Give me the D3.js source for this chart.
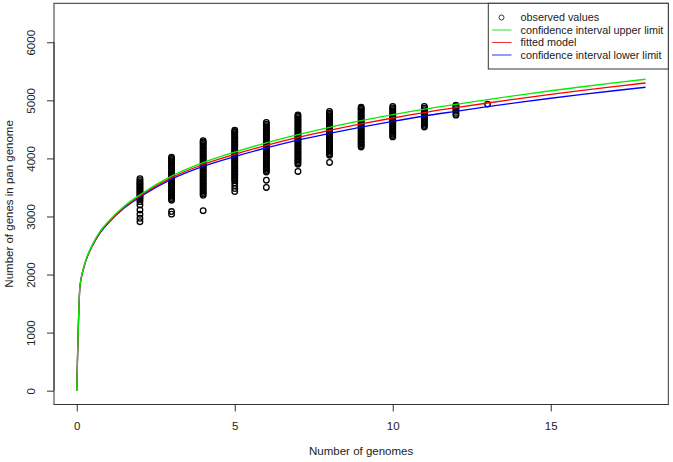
<!DOCTYPE html>
<html><head><meta charset="utf-8">
<script src="https://cdn.jsdelivr.net/npm/d3@7"></script>
<style>html,body{margin:0;padding:0;background:#fff;}svg{display:block;font-family:"Liberation Sans",Arial,Helvetica,sans-serif;}</style>
</head><body>
<svg id="c" width="673" height="462"></svg>
<script>
// ---- data ----
const genomeCounts = [2,3,4,5,6,7,8,9,10,11,12,13];
const obs2  = [2910,2969,3038,3112,3198,3255,3290,3315,3340,3360,3385,3410,3430,3455,3480,3500,3525,3550,3570,3595,3620,3650];
const obs3  = [3040,3085,3280,3305,3330,3355,3380,3405,3430,3455,3480,3505,3530,3555,3580,3605,3630,3655,3680,3705,3730,3755,3780,3805,3830,3855,3880,3905,3930,3955,3980,4000,4020];
const obs4  = [3100,3365,3390,3415,3440,3465,3490,3515,3540,3565,3590,3615,3640,3665,3690,3715,3740,3765,3790,3815,3840,3865,3890,3915,3940,3965,3990,4015,4040,4065,4090,4115,4140,4165,4190,4215,4240,4265,4285,4305];
const obs5  = [3430,3480,3530,3580,3620,3645,3670,3695,3720,3745,3770,3795,3820,3845,3870,3895,3920,3945,3970,3995,4020,4045,4070,4095,4120,4145,4170,4195,4220,4245,4270,4295,4320,4345,4370,4395,4420,4445,4465,4485];
const obs6  = [3500,3625,3765,3790,3815,3840,3865,3890,3915,3940,3965,3990,4015,4040,4065,4090,4115,4140,4165,4190,4215,4240,4265,4290,4315,4340,4365,4390,4415,4440,4465,4490,4515,4540,4565,4590,4620];
const obs7  = [3775,3900,3925,3950,3975,4000,4025,4050,4075,4100,4125,4150,4175,4200,4225,4250,4275,4300,4325,4350,4375,4400,4425,4450,4475,4500,4525,4550,4575,4600,4625,4650,4675,4700,4725,4750];
const obs8  = [3930,4055,4080,4105,4130,4155,4180,4205,4230,4255,4280,4305,4330,4355,4380,4405,4430,4455,4480,4505,4530,4555,4580,4605,4630,4655,4680,4705,4730,4755,4780,4810];
const obs9  = [4195,4220,4245,4270,4295,4320,4345,4370,4395,4420,4445,4470,4495,4520,4545,4570,4595,4620,4645,4670,4695,4720,4745,4770,4795,4820,4845,4860,4880];
const obs10 = [4370,4395,4420,4445,4470,4495,4520,4545,4570,4595,4620,4645,4670,4695,4720,4745,4770,4795,4820,4845,4870,4895];
const obs11 = [4540,4565,4590,4615,4640,4665,4690,4715,4740,4765,4790,4815,4840,4865,4895];
const obs12 = [4745,4775,4810,4840,4870,4895,4915];
const obs13 = [4935];
const observedValues = [obs2,obs3,obs4,obs5,obs6,obs7,obs8,obs9,obs10,obs11,obs12,obs13];

const curveX      = [0,0.1,0.2,0.3,0.5,0.75,1,1.5,2,3,4,5,6,7,8,9,10,11,12,13,14,15,16,17,18];
const fittedModel = [0,1790,2075,2260,2510,2740,2900,3160,3355,3670,3895,4070,4225,4362,4484,4595,4696,4790,4873,4954,5031,5104,5172,5237,5299];
const upperLimit  = [0,1795,2082,2268,2520,2752,2913,3176,3375,3696,3927,4108,4269,4410,4536,4649,4752,4847,4931,5013,5091,5165,5234,5300,5363];
const lowerLimit  = [0,1785,2068,2252,2500,2728,2887,3144,3335,3644,3863,4032,4181,4314,4432,4540,4638,4730,4811,4890,4965,5036,5102,5165,5225];

const xTicks = [0,5,10,15];
const yTicks = [0,1000,2000,3000,4000,5000,6000];
const legendLabels = ["observed values","confidence interval upper limit","fitted model","confidence interval lower limit"];
const legendColors = [null,"#33dd33","#ee3333","#3333ee"];

// ---- layout ----
const svg = d3.select("#c");
const L = 54, R = 668.3, T = 3.3, B = 404.5;
const x = d3.scaleLinear().domain([-0.72, 18.72]).range([L, R]);
const y = d3.scaleLinear().domain([-238, 6671]).range([B, T]);
const axisCol = "#333";

// observed points
const pts = [];
genomeCounts.forEach((g,i)=>observedValues[i].forEach(v=>pts.push([g,v])));
svg.append("g").selectAll("circle").data(pts).join("circle")
  .attr("cx",d=>x(d[0])).attr("cy",d=>y(d[1])).attr("r",2.8)
  .attr("fill","none").attr("stroke","#000").attr("stroke-width",1.3);

// curves
const line = d3.line().x((d,i)=>x(curveX[i])).y(d=>y(d)).curve(d3.curveMonotoneX);
[[lowerLimit,"#0000ff"],[fittedModel,"#ff0000"],[upperLimit,"#00ee00"]].forEach(([arr,col])=>{
  svg.append("path").attr("d",line(arr)).attr("fill","none").attr("stroke",col).attr("stroke-width",1.3);
});

// box
svg.append("rect").attr("x",L).attr("y",T).attr("width",R-L).attr("height",B-T)
  .attr("fill","none").attr("stroke",axisCol).attr("stroke-width",1);

// x axis
const xa = svg.append("g").attr("transform",`translate(0,${B})`)
  .call(d3.axisBottom(x).tickValues(xTicks).tickSize(7).tickPadding(10).tickFormat(d3.format("d")));
xa.select(".domain").attr("d",`M${x(0)},0H${x(15)}`).attr("stroke",axisCol);
xa.selectAll(".tick line").attr("stroke",axisCol);
xa.selectAll("text").attr("font-size",11.5).attr("fill","#222").attr("font-family","Liberation Sans, Arial, sans-serif");

// y axis
const ya = svg.append("g").attr("transform",`translate(${L},0)`)
  .call(d3.axisLeft(y).tickValues(yTicks).tickSize(7).tickFormat(d3.format("d")));
ya.select(".domain").attr("d",`M0,${y(0)}V${y(6000)}`).attr("stroke",axisCol);
ya.selectAll(".tick line").attr("stroke",axisCol);
ya.selectAll(".tick text").attr("x",null).attr("dy",null)
  .attr("transform","translate(-19,0) rotate(-90)").attr("text-anchor","middle")
  .attr("font-size",11.5).attr("fill","#222").attr("font-family","Liberation Sans, Arial, sans-serif");

// axis titles
svg.append("text").attr("x",(L+R)/2).attr("y",455).attr("text-anchor","middle")
  .attr("font-size",11.5).attr("fill","#222").text("Number of genomes");
svg.append("text").attr("transform",`translate(13,${(T+B)/2}) rotate(-90)`).attr("text-anchor","middle")
  .attr("font-size",11.5).attr("fill","#222").text("Number of genes in pan genome");

// legend
const lg = svg.append("g");
lg.append("rect").attr("x",488.3).attr("y",T).attr("width",R-488.3).attr("height",69-T)
  .attr("fill","#fff").attr("stroke",axisCol).attr("stroke-width",1);
legendLabels.forEach((t,i)=>{
  const yy = 17.5 + i*12.5;
  if(i===0){
    lg.append("circle").attr("cx",501.5).attr("cy",yy).attr("r",2.5).attr("fill","none").attr("stroke","#222").attr("stroke-width",0.9);
  } else {
    lg.append("line").attr("x1",492).attr("x2",511.5).attr("y1",yy).attr("y2",yy).attr("stroke",legendColors[i]).attr("stroke-width",1);
  }
  lg.append("text").attr("x",520.5).attr("y",yy).attr("dy","0.35em").attr("font-size",10.8).attr("fill","#222").text(t);
});
</script>
</body></html>
